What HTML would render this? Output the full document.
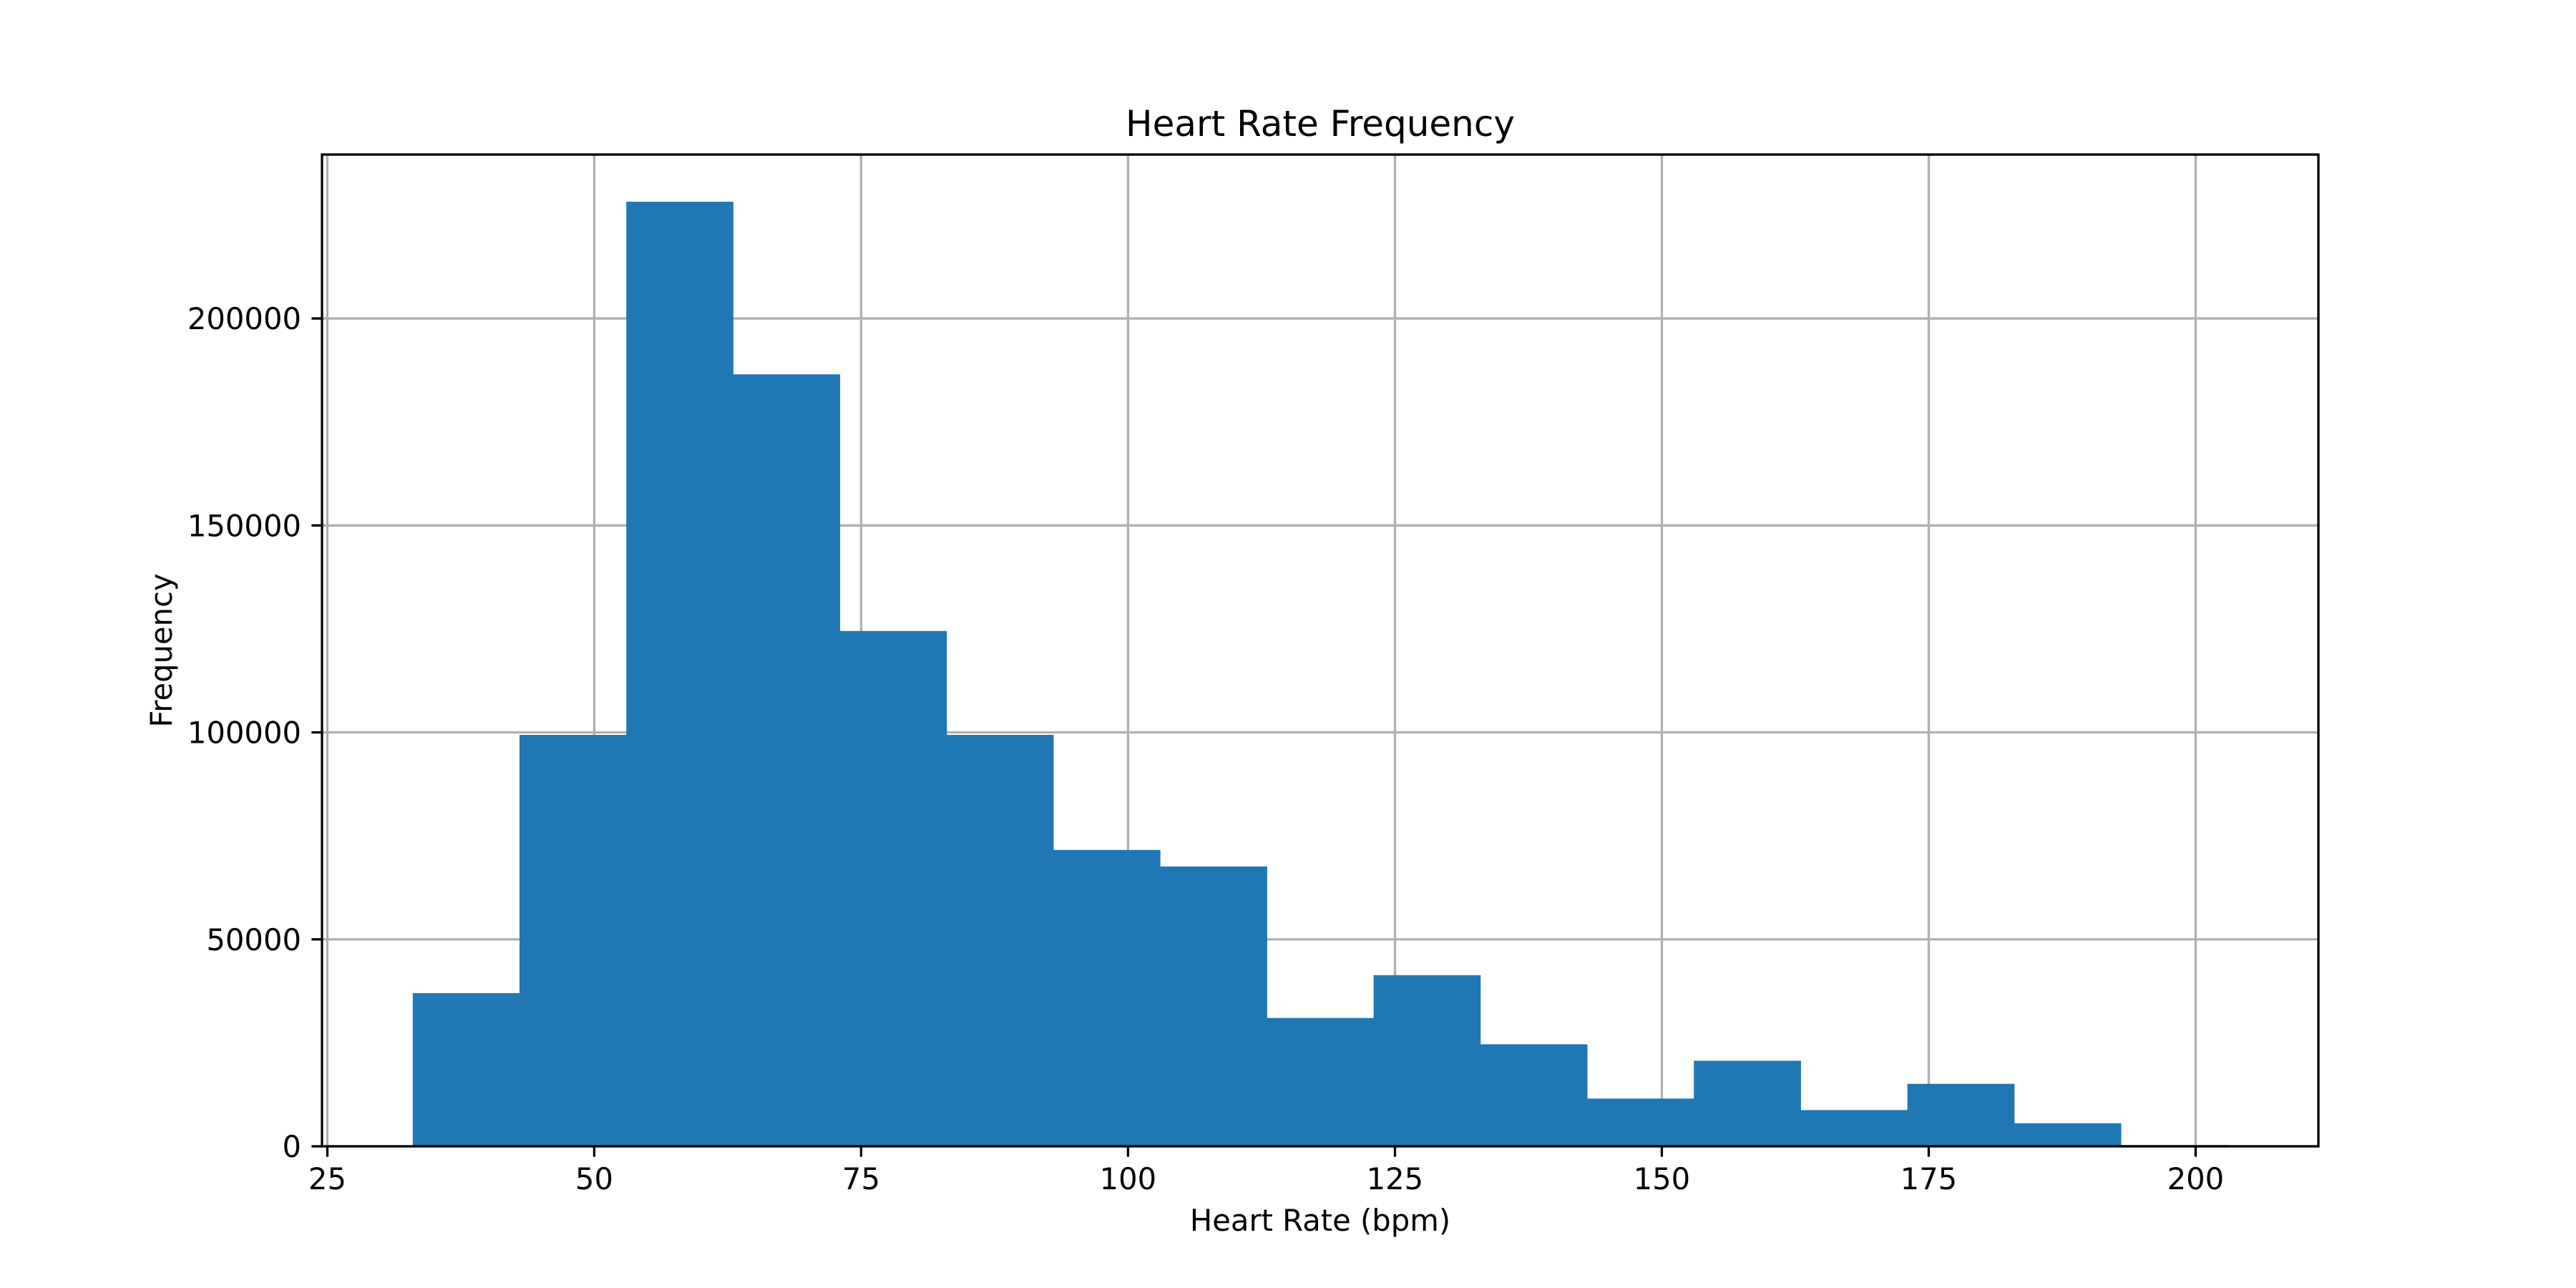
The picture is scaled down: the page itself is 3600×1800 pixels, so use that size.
<!DOCTYPE html>
<html><head><meta charset="utf-8"><style>
html,body{margin:0;padding:0;background:#fff;}
svg{display:block;font-family:"DejaVu Sans","Liberation Sans",sans-serif;}
</style></head><body>
<svg id="chart" width="3600" height="1800" viewBox="0 0 3600 1800" xmlns="http://www.w3.org/2000/svg">
<rect width="3600" height="1800" fill="#fff"/>
<g id="grid"></g>
<g id="bars"></g>
<g id="axes"></g>
<text x="1845" y="190" font-size="50" text-anchor="middle">Heart Rate Frequency</text>
<text x="1845" y="1720" font-size="41.7" text-anchor="middle">Heart Rate (bpm)</text>
<text x="0" y="0" font-size="41.7" text-anchor="middle" transform="translate(240,909) rotate(-90)">Frequency</text>
</svg>
<script>
const binEdges = [33,43,53,63,73,83,93,103,113,123,133,143,153,163,173,183,193,203];
const counts = [37000,99400,228200,186500,124500,99400,71600,67600,31000,41350,24650,11530,20670,8750,15100,5570,300];
const xTicks = [25,50,75,100,125,150,175,200];
const yTicks = [0,50000,100000,150000,200000];

const L=450,R=3240,T=216,B=1602;
const xmin=24.5,xmax=211.5,ymin=0,ymax=239600;
function xs(v){return L+(v-xmin)/(xmax-xmin)*(R-L);}
function ys(v){return B-(v-ymin)/(ymax-ymin)*(B-T);}
const NS="http://www.w3.org/2000/svg";
function mk(tag,attrs,parent){const e=document.createElementNS(NS,tag);for(const k in attrs)e.setAttribute(k,attrs[k]);parent.appendChild(e);return e;}
const grid=document.getElementById('grid'),bars=document.getElementById('bars'),axes=document.getElementById('axes');

xTicks.forEach(t=>{
  const x=xs(t);
  const g=mk('line',{x1:x,x2:x,y1:T,y2:B,stroke:'#b0b0b0','stroke-width':3.3},grid);
  
  
  const tk=mk('line',{x1:x,x2:x,y1:B,y2:B+14.6,stroke:'#000','stroke-width':3.3},axes);
  
  
  const lb=mk('text',{x:x,y:B+60,'font-size':41.7,'text-anchor':'middle'},axes);
  lb.textContent=t;
  
  
});
yTicks.forEach(t=>{
  const y=ys(t);
  const g=mk('line',{x1:L,x2:R,y1:y,y2:y,stroke:'#b0b0b0','stroke-width':3.3},grid);
  
  
  const tk=mk('line',{x1:L-14.6,x2:L,y1:y,y2:y,stroke:'#000','stroke-width':3.3},axes);
  
  
  const lb=mk('text',{x:L-29,y:y+15,'font-size':41.7,'text-anchor':'end'},axes);
  lb.textContent=t;
  
  
});
counts.forEach((c,i)=>{
  const x0=xs(binEdges[i]),x1=xs(binEdges[i+1]);
  const r=mk('rect',{x:x0,y:ys(c),width:x1-x0+0.5,height:ys(0)-ys(c),fill:'#1f77b4'},bars);
  
  
});
const sp=mk('rect',{x:L,y:T,width:R-L,height:B-T,fill:'none',stroke:'#000','stroke-width':3.3},axes);


</script>
</body></html>
